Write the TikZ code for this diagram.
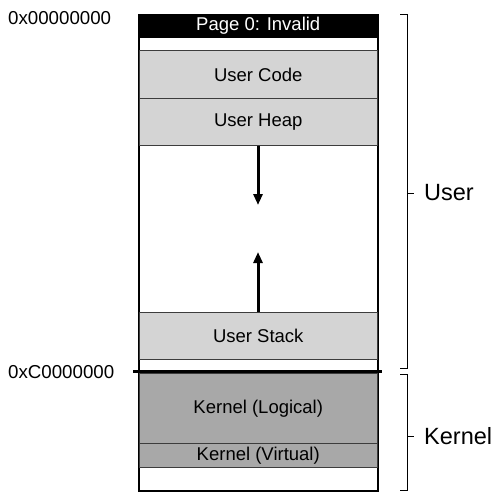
\documentclass[tikz,border=0pt]{standalone}
\usepackage{fontspec}
\setmainfont{Liberation Sans}
\usetikzlibrary{arrows.meta}
\definecolor{lgray}{RGB}{212,212,212}
\definecolor{dgray}{RGB}{168,168,168}
\definecolor{edge}{RGB}{60,60,60}
\begin{document}
\begin{tikzpicture}[x=1pt,y=-1pt,
  seg/.style={draw=edge,line width=1pt,minimum width=238.5pt,anchor=north west,inner sep=0pt,font=\fontsize{18.5}{20}\selectfont},
  addr/.style={anchor=west,inner sep=0pt,font=\fontsize{18.7}{20}\selectfont},
  side/.style={anchor=west,inner sep=0pt,font=\fontsize{23.5}{26}\selectfont},
  growarrow/.style={line width=3pt,-{Triangle[length=11pt,width=9pt]}},
  brace/.style={line width=1pt}]
\useasboundingbox (0,0) rectangle (494,491);
% column outline
\node[seg,draw=black,minimum height=476pt,fill=white] (col) at (138.5,14) {};
\node[seg,fill=black,draw=black,minimum height=23pt,text=white] (p0) at (138.5,14) {Page 0: Invalid};
\node[seg,fill=lgray,minimum height=48pt] (code) at (138.5,50) {User Code};
\node[seg,fill=lgray,minimum height=47pt] (heap) at (138.5,98) {User Heap};
\node[seg,fill=lgray,minimum height=47pt] (stack) at (138.5,312) {User Stack};
\node[seg,fill=dgray,minimum height=70pt] (klog) at (138.5,373) {Kernel (Logical)};
\node[seg,fill=dgray,minimum height=24pt] (kvirt) at (138.5,443) {Kernel (Virtual)};
\draw[black,line width=1pt] (col.north west) rectangle (col.south east);
% growth arrows
\coordinate (hend) at (258,205);
\coordinate (send) at (258,252);
\draw[growarrow] (heap.south -| hend) -- (hend);
\draw[growarrow] (stack.north -| send) -- (send);
% boundary
\coordinate (bl) at (133,371.5);
\coordinate (br) at (381.5,371.5);
\draw[line width=3.5pt] (bl) -- (br);
% addresses
\node[addr] (a0) at (8,18) {0x00000000};
\node[addr] (ac) at (8,372) {0xC0000000};
% braces
\draw[brace] (400,14) -- (407.5,14) -- (407.5,368) -- (400,368);
\draw[brace] (407.5,193) -- (414,193);
\node[side] (user) at (424,193) {User};
\draw[brace] (400,374) -- (407.5,374) -- (407.5,490) -- (400,490);
\draw[brace] (407.5,436) -- (414,436);
\node[side] (kern) at (424,436) {Kernel};
\end{tikzpicture}
\end{document}
